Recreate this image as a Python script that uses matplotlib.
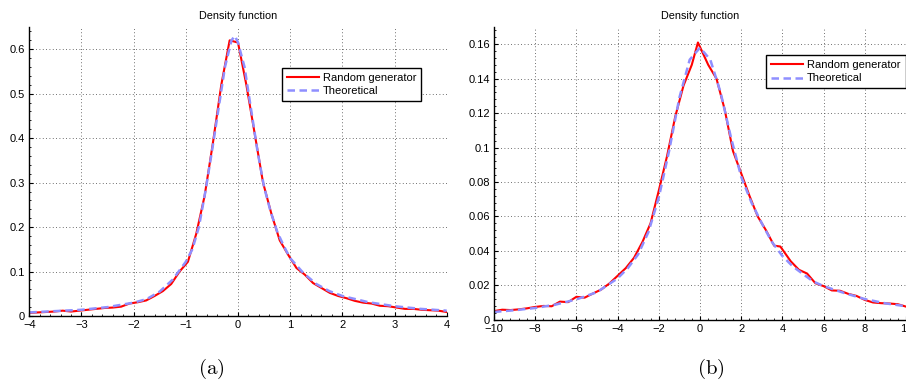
import numpy as np
import matplotlib
matplotlib.use("Agg")
import matplotlib.pyplot as plt
from matplotlib.ticker import FuncFormatter, AutoMinorLocator, MultipleLocator

# ---------------- data: panel (a) ----------------
a_theo_x = [-4.0, -3.5, -3.0, -2.5, -2.0, -1.75, -1.5, -1.25, -1.0, -0.875, -0.75,
            -0.625, -0.5, -0.375, -0.25, -0.125, -0.06, 0.0, 0.125, 0.25, 0.375,
            0.5, 0.625, 0.75, 0.875, 1.0, 1.25, 1.5, 1.75, 2.0, 2.5, 3.0, 3.5, 4.0]
a_theo_y = [0.008, 0.011, 0.014, 0.020, 0.030, 0.038, 0.055, 0.082, 0.122, 0.150, 0.200,
            0.280, 0.370, 0.465, 0.560, 0.620, 0.630, 0.615, 0.560, 0.465, 0.370,
            0.290, 0.235, 0.190, 0.158, 0.130, 0.097, 0.072, 0.056, 0.045, 0.031,
            0.022, 0.016, 0.012]

a_rand_x = [-4.00, -3.84, -3.68, -3.52, -3.36, -3.20, -3.04, -2.88, -2.72, -2.56,
            -2.40, -2.24, -2.08, -1.92, -1.76, -1.60, -1.44, -1.28, -1.12, -0.96,
            -0.80, -0.64, -0.48, -0.32, -0.16, 0.00, 0.16, 0.32, 0.48, 0.64,
            0.80, 0.96, 1.12, 1.28, 1.44, 1.60, 1.76, 1.92, 2.08, 2.24,
            2.40, 2.56, 2.72, 2.88, 3.04, 3.20, 3.36, 3.52, 3.68, 3.84, 4.00]
a_rand_y = [0.007, 0.008, 0.009, 0.010, 0.012, 0.010, 0.012, 0.014, 0.016, 0.018,
            0.019, 0.021, 0.028, 0.031, 0.035, 0.045, 0.056, 0.072, 0.100, 0.122,
            0.185, 0.270, 0.390, 0.520, 0.620, 0.615, 0.520, 0.410, 0.300, 0.230,
            0.170, 0.138, 0.108, 0.093, 0.074, 0.063, 0.052, 0.045, 0.040, 0.034,
            0.030, 0.028, 0.023, 0.022, 0.019, 0.016, 0.016, 0.014, 0.013, 0.012, 0.009]

# ---------------- data: panel (b) ----------------
b_theo_x = [-10, -9, -8, -7, -6, -5, -4, -3.5, -3, -2.5, -2, -1.5, -1, -0.5, 0,
            0.5, 1, 1.5, 2, 2.5, 3, 3.5, 4, 4.5, 5, 5.5, 6, 7, 8, 9, 10]
b_theo_y = [0.0045, 0.0055, 0.0068, 0.0088, 0.0118, 0.0160, 0.0240, 0.0300, 0.0380,
            0.0510, 0.0710, 0.0980, 0.1290, 0.1510, 0.1580, 0.1510, 0.1320, 0.1060,
            0.0830, 0.0680, 0.0560, 0.0450, 0.0370, 0.0310, 0.0265, 0.0222, 0.0195,
            0.0155, 0.0120, 0.0095, 0.0078]

b_rand_x = [-10.0, -9.6, -9.2, -8.8, -8.4, -8.0, -7.6, -7.2, -6.8, -6.4, -6.0, -5.6,
            -5.2, -4.8, -4.4, -4.0, -3.6, -3.2, -2.8, -2.4, -2.0, -1.6, -1.2, -0.8,
            -0.4, -0.1, 0.4, 0.8, 1.2, 1.6, 2.0, 2.4, 2.8, 3.2, 3.6, 3.9, 4.4, 4.8,
            5.2, 5.6, 6.0, 6.4, 6.8, 7.2, 7.6, 8.0, 8.4, 8.8, 9.2, 9.6, 10.0]
b_rand_y = [0.0050, 0.0058, 0.0056, 0.0060, 0.0066, 0.0074, 0.0080, 0.0078, 0.0105,
            0.0102, 0.0133, 0.0128, 0.0152, 0.0175, 0.0210, 0.0255, 0.0300, 0.0360,
            0.0450, 0.0560, 0.0750, 0.0950, 0.1180, 0.1360, 0.1480, 0.1610, 0.1480,
            0.1400, 0.1220, 0.0980, 0.0850, 0.0720, 0.0600, 0.0520, 0.0430, 0.0425,
            0.0340, 0.0290, 0.0268, 0.0212, 0.0195, 0.0170, 0.0168, 0.0150, 0.0138,
            0.0115, 0.0100, 0.0096, 0.0094, 0.0090, 0.0076]

labels = ["Random generator", "Theoretical"]
title = "Density function"
captions = ["(a)", "(b)"]

plt.rcParams['font.family'] = ['Liberation Sans', 'DejaVu Sans']
plt.rcParams['mathtext.fontset'] = 'cm'
plt.rcParams['axes.unicode_minus'] = True

W, H = 906, 385
fig = plt.figure(figsize=(W / 100, H / 100), dpi=100)

def px_axes(l, t, r, b):
    return [l / W, 1 - b / H, (r - l) / W, (b - t) / H]

ax1 = fig.add_axes(px_axes(29.3, 27, 446.7, 316))
ax2 = fig.add_axes(px_axes(494, 27, 906, 319.7))

fmt = FuncFormatter(lambda v, p: ('%g' % v).replace('-', '\u2212'))

def style(ax, xlim, ylim, xstep, ystep, leg_anchor):
    ax.set_xlim(*xlim)
    ax.set_ylim(*ylim)
    ax.xaxis.set_major_locator(MultipleLocator(xstep))
    ax.yaxis.set_major_locator(MultipleLocator(ystep))
    ax.xaxis.set_minor_locator(AutoMinorLocator(5))
    ax.yaxis.set_minor_locator(AutoMinorLocator(5))
    ax.xaxis.set_major_formatter(fmt)
    ax.yaxis.set_major_formatter(fmt)
    ax.tick_params(which='both', direction='in', labelsize=8, colors='black')
    ax.tick_params(which='major', length=3, width=0.8)
    ax.tick_params(which='minor', length=1.6, width=0.6)
    ax.tick_params(axis='x', pad=3)
    ax.tick_params(axis='y', pad=3)
    for s in ['top', 'right']:
        ax.spines[s].set_visible(False)
    for s in ['left', 'bottom']:
        ax.spines[s].set_linewidth(1.0)
    ax.grid(True, which='major', linestyle=(0, (1, 3)), color='#404040', linewidth=0.6)
    ax.set_title(title, fontsize=7.8, pad=6)
    leg = ax.legend(loc='upper left', bbox_to_anchor=leg_anchor, fontsize=8,
                    handlelength=2.9, handletextpad=0.35, borderpad=0.45,
                    labelspacing=0.3, fancybox=False, framealpha=1,
                    edgecolor='black', borderaxespad=0)
    leg.get_frame().set_linewidth(1.0)

ax1.plot(a_rand_x, a_rand_y, color='red', lw=1.5, label=labels[0])
ax1.plot(a_theo_x, a_theo_y, color='#8f8fff', lw=1.8, ls=(0, (3.0, 1.8)), label=labels[1])
ax2.plot(b_rand_x, b_rand_y, color='red', lw=1.5, label=labels[0])
ax2.plot(b_theo_x, b_theo_y, color='#8f8fff', lw=1.8, ls=(0, (3.0, 1.8)), label=labels[1])

style(ax1, (-4, 4), (0, 0.65), 1, 0.1, (0.605, 0.858))
style(ax2, (-10, 10), (0, 0.17), 2, 0.02, (0.66, 0.904))

fig.text(211 / W, 1 - 369 / H, r'$\mathrm{' + captions[0] + '}$', fontsize=15, ha='center', va='center')
fig.text(711 / W, 1 - 369 / H, r'$\mathrm{' + captions[1] + '}$', fontsize=15, ha='center', va='center')

fig.savefig('out.png', dpi=100)
